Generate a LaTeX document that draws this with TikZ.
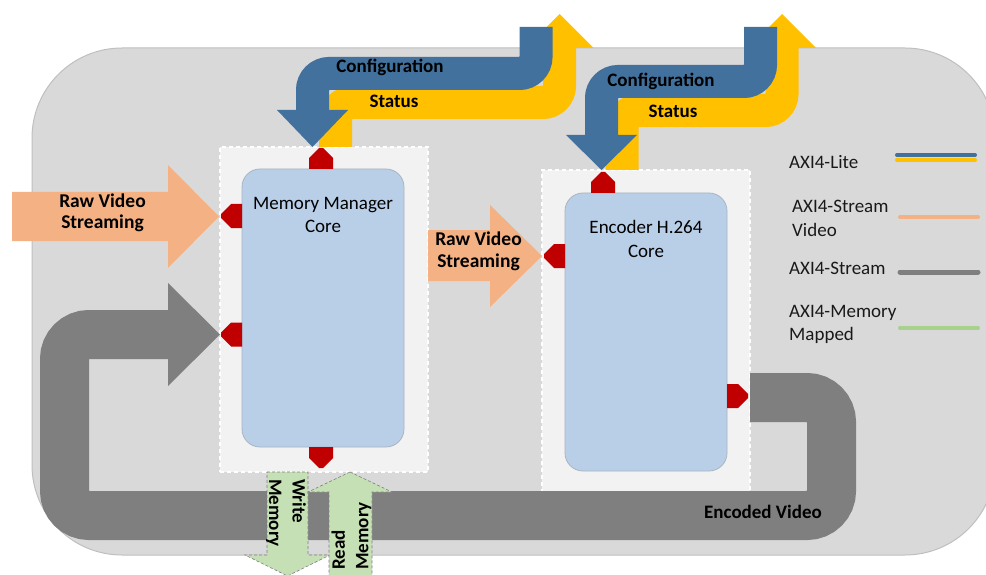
\documentclass[tikz,border=0pt]{standalone}
\usepackage{fontspec}
\setmainfont{Carlito}
\definecolor{bgGray}{HTML}{D9D9D9}
\definecolor{bgEdge}{HTML}{BFBFBF}
\definecolor{wrapFill}{HTML}{F2F2F2}
\definecolor{coreBlue}{HTML}{B9CFE8}
\definecolor{coreEdge}{HTML}{A9B4C2}
\definecolor{portRed}{HTML}{C00000}
\definecolor{liteBlue}{HTML}{41719C}
\definecolor{liteYellow}{HTML}{FFC000}
\definecolor{videoOrange}{HTML}{F4B183}
\definecolor{streamGray}{HTML}{7F7F7F}
\definecolor{memGreen}{HTML}{C5E0B4}
\definecolor{memGreenLine}{HTML}{A9D18E}
\newcommand\labelfont{\fontsize{19}{23.5}\selectfont}
\newcommand\arrowfont{\fontsize{19.5}{21.5}\selectfont\bfseries}
\tikzset{
  bgpanel/.style={fill=bgGray, draw=bgEdge, line width=1pt, rounded corners=90pt},
  wrapbox/.style={fill=wrapFill, draw=white, dash pattern=on 4pt off 3pt, line width=1.2pt,
    minimum width=208pt, inner sep=0pt},
  corebox/.style={fill=coreBlue, draw=coreEdge, line width=0.8pt, rounded corners=18pt,
    minimum width=162pt, minimum height=278pt, inner sep=0pt},
  coretext/.style={font=\labelfont, align=center, text=black},
  boldtext/.style={font=\labelfont\bfseries, align=center, text=black},
  videotext/.style={font=\arrowfont, align=center, text=black},
  legendtext/.style={font=\labelfont, align=left, anchor=west, inner sep=0pt, text=black!90},
  videoarrow/.style={fill=videoOrange},
  streamband/.style={draw=streamGray, line width=49pt, rounded corners=24.5pt},
  bluebend/.style={draw=liteBlue, line width=33pt, rounded corners=16.5pt},
  yellowbend/.style={draw=liteYellow, line width=33pt, rounded corners=16.5pt},
  memarrow/.style={fill=memGreen, draw=streamGray, line width=0.6pt, dash pattern=on 3pt off 2pt},
  legendline/.style={line width=4pt, line cap=round},
  portmark/.pic={\fill[portRed] (-12,0) -- (-12,-11) -- (-2,-21) -- (2,-21) -- (12,-11) -- (12,0) -- cycle;}
}
\begin{document}
\begin{tikzpicture}[x=1pt,y=-1pt]
\useasboundingbox (0,0) rectangle (986,575);

% grey system panel
\path[bgpanel] (32,48) rectangle (995,555);

% IP blocks
\node[wrapbox, minimum height=325pt] (memwrap) at (324,309.5) {};
\node[corebox] (memcore) at (323,308) {};
\node[wrapbox, minimum height=322pt] (encwrap) at (646,331) {};
\node[corebox] (enccore) at (646,332) {};

% ports (base on the core edge, tip on the wrapper edge)
\coordinate (memTop) at (321,169);
\coordinate (memIn) at (242,216);
\coordinate (memLoop) at (242,334.5);
\coordinate (memBot) at (321,447);
\coordinate (encTop) at (603,193);
\coordinate (encIn) at (565,256);
\coordinate (encOut) at (727,396);

% encoded video loop back to the memory manager
\path[streamband] (750,397.5) -- (831.5,397.5) -- (831.5,515.5) -- (64.5,515.5) -- (64.5,334.5) -- (169,334.5);
\fill[streamGray] (168,283) -- (220,334.5) -- (168,386) -- cycle;

% raw video streams
\path[videoarrow] (12,192) -- (168,192) -- (168,165) -- (219,216.5) -- (168,268) -- (168,241) -- (12,241) -- cycle;
\path[videoarrow] (428,230) -- (490,230) -- (490,205) -- (542,256) -- (490,307) -- (490,281) -- (428,281) -- cycle;

% AXI4-Lite configuration / status, memory manager
\path[yellowbend] (335.5,147) -- (335.5,102.5) -- (559.5,102.5) -- (559.5,47);
\fill[liteYellow] (525.5,48) -- (593.5,48) -- (559.5,14) -- cycle;
\path[bluebend] (536,27) -- (536,73.5) -- (312.5,73.5) -- (312.5,111);
\fill[liteBlue] (277,110) -- (348,110) -- (312.5,147) -- cycle;

% AXI4-Lite configuration / status, encoder
\path[yellowbend] (622,170) -- (622,110.5) -- (782,110.5) -- (782,47);
\fill[liteYellow] (748,48) -- (816,48) -- (782,14) -- cycle;
\path[bluebend] (760.5,27) -- (760.5,81.5) -- (601.5,81.5) -- (601.5,136);
\fill[liteBlue] (566,135) -- (637,135) -- (601.5,170) -- cycle;

% memory mapped read / write
\path[memarrow] (267,472) -- (308,472) -- (308,555) -- (330,555) -- (287.5,576) -- (245,555) -- (267,555) -- cycle;
\path[memarrow] (350,472) -- (392,492) -- (372,492) -- (372,600) -- (329,600) -- (329,492) -- (308,492) -- cycle;

% port markers
\pic at (memTop) {portmark};
\pic[rotate=90] at (memIn) {portmark};
\pic[rotate=90] at (memLoop) {portmark};
\pic[rotate=180] at (memBot) {portmark};
\pic at (encTop) {portmark};
\pic[rotate=90] at (encIn) {portmark};
\pic[rotate=-90] at (encOut) {portmark};

% labels
\node[coretext] (memlabel) at (323,215) {Memory Manager\\Core};
\node[coretext] (enclabel) at (646,239) {Encoder H.264\\Core};
\node[videotext] (rawin) at (102.5,213) {Raw Video\\Streaming};
\node[videotext] (rawmid) at (478.5,251.5) {Raw Video\\Streaming};
\node[boldtext] (cfg1) at (390,67) {Configuration};
\node[boldtext] (sts1) at (394,101) {Status};
\node[boldtext] (cfg2) at (661,81) {Configuration};
\node[boldtext] (sts2) at (673,111) {Status};
\node[boldtext] (encv) at (763,512) {Encoded Video};
\node[boldtext, rotate=-90, anchor=west, align=left, inner sep=0pt] (wrmem) at (286,479) {Write\\Memory};
\node[boldtext, rotate=90, anchor=west, align=left, inner sep=0pt] (rdmem) at (351.5,570) {Read\\Memory};

% legend
\node[legendtext] (lgLite) at (789,162) {AXI4-Lite};
\node[legendtext] (lgVideo) at (792,218.5) {AXI4-Stream\\Video};
\node[legendtext] (lgStream) at (789,268) {AXI4-Stream};
\node[legendtext] (lgMem) at (789,324.5) {AXI4-Memory\\Mapped};
\draw[legendline, liteBlue] (897,155) -- (975,155);
\draw[legendline, liteYellow] (897,160) -- (975,160);
\draw[legendline, videoOrange] (900,217) -- (978,217);
\draw[legendline, streamGray, line width=5pt] (900,272) -- (978,272);
\draw[legendline, memGreenLine] (900,328) -- (978,328);
\end{tikzpicture}
\end{document}
